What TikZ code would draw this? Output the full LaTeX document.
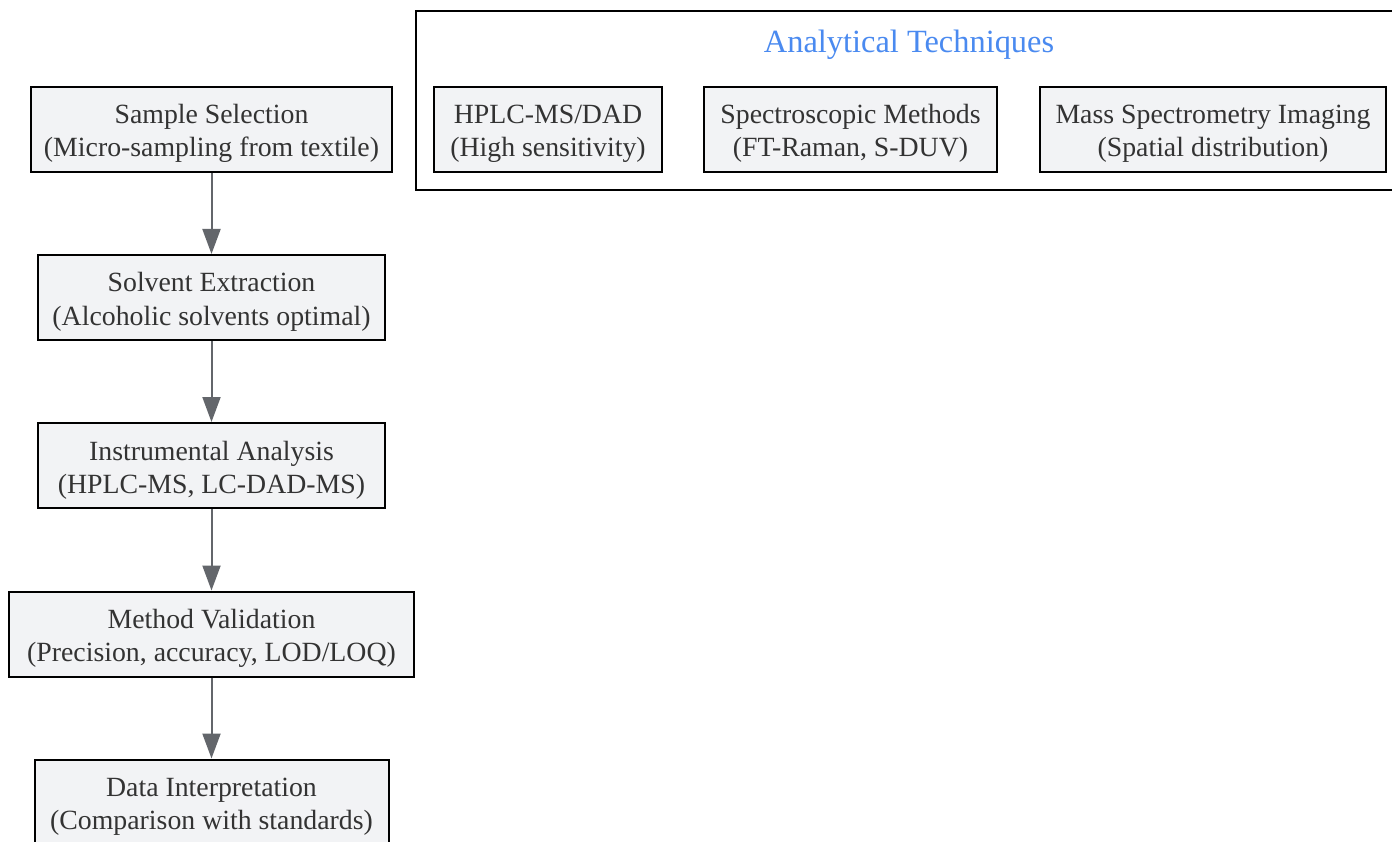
\documentclass[tikz,border=0pt]{standalone}
\usepackage{fontspec}
\setmainfont{Liberation Serif}
\usetikzlibrary{arrows.meta}
\definecolor{boxfill}{HTML}{F2F3F5}
\definecolor{txt}{HTML}{333333}
\definecolor{arr}{HTML}{63666B}
\definecolor{ttl}{HTML}{4A8AF0}
\newcommand{\firstline}{\rule{0pt}{22pt}}
\tikzset{
  stepbox/.style={draw=black, line width=2pt, fill=boxfill, text=txt, inner sep=0pt,
    minimum height=85pt, align=center, text depth=0pt, font=\fontsize{27.8}{33}\selectfont},
  flowarrow/.style={draw=arr, line width=2pt, -{Triangle[length=25pt,width=18pt]}},
  cluster/.style={draw=black, line width=2pt, fill=white}
}
\begin{document}
\begin{tikzpicture}[x=1pt,y=-1pt]
\useasboundingbox (0,0) rectangle (1392,842);
\clip (0,0) rectangle (1392,842);
\fill[white] (0,0) rectangle (1392,842);
% cluster
\draw[cluster] (416,11) rectangle (1402,190);
\node[text=ttl, font=\fontsize{32.4}{36}\selectfont, anchor=center] (title) at (909,45) {Analytical Techniques};
\node[stepbox, minimum width=228pt] (hplc) at (548,129.5) {\firstline HPLC-MS/DAD\\(High sensitivity)};
\node[stepbox, minimum width=293pt] (spec) at (850.5,129.5) {\firstline Spectroscopic Methods\\(FT-Raman, S-DUV)};
\node[stepbox, minimum width=346pt] (msi) at (1213,129.5) {\firstline Mass Spectrometry Imaging\\(Spatial distribution)};
% flow
\node[stepbox, minimum width=361pt] (s1) at (211.5,129.5) {\firstline Sample Selection\\(Micro-sampling from textile)};
\node[stepbox, minimum width=347pt] (s2) at (211.5,297.5) {\firstline Solvent Extraction\\(Alcoholic solvents optimal)};
\node[stepbox, minimum width=347pt] (s3) at (211.5,465.5) {\firstline Instrumental Analysis\\(HPLC-MS, LC-DAD-MS)};
\node[stepbox, minimum width=405pt] (s4) at (211.5,634) {\firstline Method Validation\\(Precision, accuracy, LOD/LOQ)};
\node[stepbox, minimum width=354pt] (s5) at (211.5,802) {\firstline Data Interpretation\\(Comparison with standards)};
\draw[flowarrow] (s1.south) -- (s2.north);
\draw[flowarrow] (s2.south) -- (s3.north);
\draw[flowarrow] (s3.south) -- (s4.north);
\draw[flowarrow] (s4.south) -- (s5.north);
\end{tikzpicture}
\end{document}
